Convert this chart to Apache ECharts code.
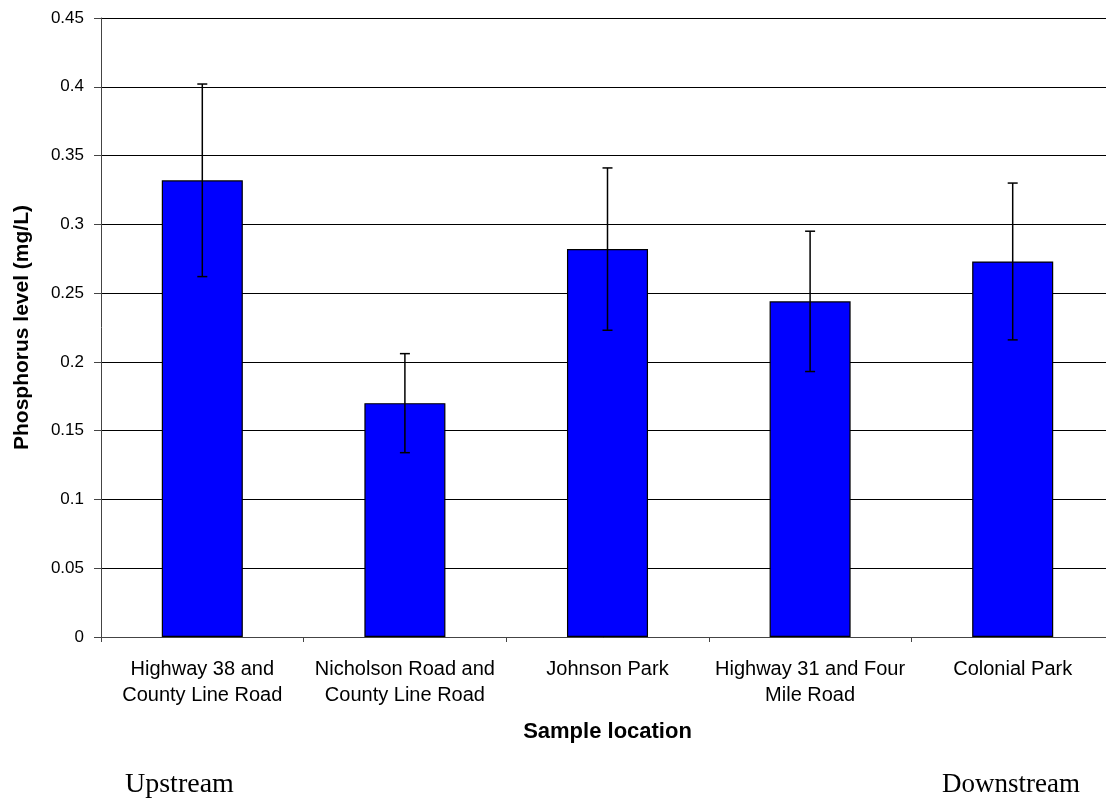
<!DOCTYPE html>
<html>
<head>
<meta charset="utf-8">
<script src="https://cdn.jsdelivr.net/npm/echarts@6/dist/echarts.min.js"></script>
<style>
  html, body { margin: 0; padding: 0; background: #fff; }
  #chart { width: 1106px; height: 798px; }
</style>
</head>
<body>
<div id="chart"></div>
<script>
// Sample locations along the stream, upstream to downstream
var categories = [
  'Highway 38 and\nCounty Line Road',
  'Nicholson Road and\nCounty Line Road',
  'Johnson Park',
  'Highway 31 and Four\nMile Road',
  'Colonial Park'
];
// Mean phosphorus level (mg/L)
var phosphorus = [0.332, 0.170, 0.282, 0.244, 0.273];
// Error bar half-width (mg/L)
var errorRange = [0.070, 0.036, 0.059, 0.051, 0.057];
var yTicks = { min: 0, max: 0.45, interval: 0.05 };

var errorData = phosphorus.map(function (v, i) {
  return [i, v - errorRange[i], v + errorRange[i]];
});

var chart = echarts.init(document.getElementById('chart'));
var font = '"Liberation Sans", Arial, sans-serif';

chart.setOption({
  animation: false,
  backgroundColor: '#fff',
  grid: {
    left: 101, top: 18, width: 1013, height: 619,
    containLabel: false, outerBoundsMode: 'none'
  },
  xAxis: {
    type: 'category',
    data: categories,
    name: 'Sample location',
    nameLocation: 'middle',
    nameGap: 84,
    nameTextStyle: { fontFamily: font, fontSize: 22, fontWeight: 'bold', color: '#000' },
    axisLine: { lineStyle: { color: '#444', width: 1 } },
    axisTick: { show: true, length: 5, lineStyle: { color: '#444' } },
    axisLabel: { fontFamily: font, fontSize: 20, color: '#000', lineHeight: 26, margin: 19, interval: 0 },
    splitLine: { show: false }
  },
  yAxis: {
    type: 'value',
    min: yTicks.min,
    max: yTicks.max,
    interval: yTicks.interval,
    name: 'Phosphorus level (mg/L)',
    nameLocation: 'middle',
    nameGap: 68,
    nameTextStyle: { fontFamily: font, fontSize: 21, fontWeight: 'bold', color: '#000' },
    axisLine: { show: true, lineStyle: { color: '#444', width: 1 } },
    axisTick: { show: true, length: 7, lineStyle: { color: '#444' } },
    axisLabel: {
      fontFamily: font, fontSize: 17, color: '#000', margin: 17,
      formatter: function (v) { return String(Math.round(v * 100) / 100); }
    },
    splitLine: { show: true, lineStyle: { color: '#000', width: 1 } }
  },
  series: [
    {
      type: 'bar',
      data: phosphorus,
      barWidth: '40%',
      itemStyle: { color: '#0000ff', borderColor: '#000', borderWidth: 1.2 },
      z: 2
    },
    {
      type: 'custom',
      data: errorData,
      z: 5,
      renderItem: function (params, api) {
        var x = api.value(0);
        var lo = api.coord([x, api.value(1)]);
        var hi = api.coord([x, api.value(2)]);
        var cap = 5;
        var style = { stroke: '#000', lineWidth: 1.5 };
        return {
          type: 'group',
          children: [
            { type: 'line', shape: { x1: hi[0], y1: hi[1], x2: lo[0], y2: lo[1] }, style: style },
            { type: 'line', shape: { x1: hi[0] - cap, y1: hi[1], x2: hi[0] + cap, y2: hi[1] }, style: style },
            { type: 'line', shape: { x1: lo[0] - cap, y1: lo[1], x2: lo[0] + cap, y2: lo[1] }, style: style }
          ]
        };
      }
    }
  ],
  graphic: [
    {
      type: 'text', left: 125, top: 771,
      style: { text: 'Upstream', font: '28px "Liberation Serif", "Times New Roman", serif', fill: '#000' }
    },
    {
      type: 'text', left: 942, top: 771,
      style: { text: 'Downstream', font: '27px "Liberation Serif", "Times New Roman", serif', fill: '#000' }
    }
  ]
});
</script>
</body>
</html>
